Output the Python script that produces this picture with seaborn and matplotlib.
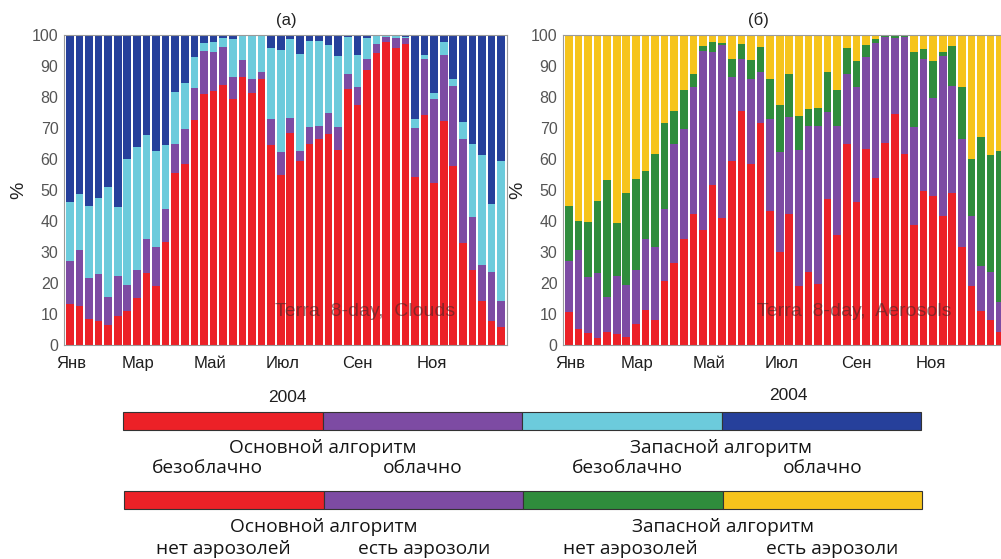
import numpy as np
import pandas as pd
import matplotlib
matplotlib.use("Agg")
import matplotlib.pyplot as plt
from matplotlib.patches import Rectangle
import seaborn as sns

# 8-day periods of 2004 (46 composites)
periods = list(range(46))
month_labels = ["Янв", "Мар", "Май", "Июл", "Сен", "Ноя"]

# (a) Clouds, % of retrievals per 8-day period
clouds_main_clear = [13.3, 12.7, 8.4, 7.8, 6.3, 9.4, 11.0, 15.1, 23.2, 18.9, 33.3, 55.6, 58.3, 72.5, 80.9, 82.0,
                     83.8, 79.3, 86.3, 81.4, 85.8, 64.4, 54.7, 68.3, 59.3, 65.0, 66.6, 68.0, 62.8, 82.6, 77.5, 88.6,
                     94.3, 97.9, 95.7, 97.1, 54.2, 74.2, 52.3, 72.1, 57.7, 33.0, 24.1, 14.3, 7.6, 5.9]
clouds_main_cloudy = [13.7, 18.0, 13.2, 15.1, 9.1, 12.7, 8.2, 9.2, 11.0, 12.6, 10.6, 9.3, 11.5, 10.5, 14.0, 12.6,
                      12.2, 7.0, 5.7, 4.4, 2.3, 8.6, 7.5, 4.8, 3.3, 5.3, 4.2, 7.0, 7.5, 4.8, 5.6, 3.7,
                      2.8, 1.3, 3.2, 1.8, 15.8, 18.1, 27.2, 21.4, 25.8, 33.3, 17.3, 11.5, 15.9, 8.3]
clouds_backup_clear = [19.2, 18.1, 23.4, 24.6, 35.6, 22.3, 40.9, 39.6, 33.4, 31.1, 20.6, 16.8, 14.7, 9.8, 2.5, 3.2,
                       2.9, 12.4, 7.8, 13.8, 11.5, 22.7, 33.1, 25.6, 31.3, 27.9, 27.4, 21.9, 22.8, 11.8, 10.3, 6.7,
                       2.5, 0.6, 0.9, 0.6, 2.9, 1.1, 1.8, 4.1, 2.3, 5.6, 23.3, 35.4, 22.1, 45.1]
clouds_backup_cloudy = [53.8, 51.2, 55.0, 52.5, 49.0, 55.6, 39.9, 36.1, 32.4, 37.4, 35.5, 18.3, 15.5, 7.2, 2.6, 2.2,
                        1.1, 1.3, 0.2, 0.4, 0.4, 4.3, 4.7, 1.3, 6.1, 1.8, 1.8, 3.1, 6.9, 0.8, 6.6, 1.0,
                        0.4, 0.2, 0.2, 0.5, 27.1, 6.6, 18.7, 2.4, 14.2, 28.1, 35.3, 38.8, 54.4, 40.7]

# (б) Aerosols, % of retrievals per 8-day period
aer_main_none = [10.5, 5.1, 3.8, 2.2, 4.3, 3.6, 2.7, 6.8, 11.4, 8.1, 20.5, 26.6, 34.2, 42.1, 37.2, 51.6,
                 41.0, 59.3, 75.5, 58.3, 71.6, 43.1, 29.9, 42.4, 19.1, 23.7, 19.7, 47.1, 35.4, 64.7, 46.1, 63.1,
                 53.9, 65.3, 74.4, 61.5, 38.8, 49.6, 48.2, 41.7, 49.1, 31.5, 19.1, 11.1, 8.1, 4.3]
aer_main_present = [16.5, 25.6, 18.1, 21.0, 11.3, 18.5, 16.7, 17.5, 22.8, 23.5, 23.4, 38.1, 35.6, 41.0, 57.7, 43.0,
                    55.8, 27.2, 16.7, 27.5, 16.5, 29.9, 32.3, 31.0, 43.7, 47.0, 51.0, 28.1, 35.3, 22.7, 37.0, 29.7,
                    43.5, 34.2, 24.5, 37.7, 31.5, 42.6, 31.6, 51.6, 34.3, 35.1, 22.6, 14.5, 15.3, 9.7]
aer_backup_none = [18.0, 9.2, 17.8, 23.2, 37.6, 17.1, 29.7, 29.4, 21.9, 29.9, 27.6, 10.8, 12.5, 4.3, 1.4, 3.2,
                   0.5, 5.9, 4.9, 6.2, 7.9, 12.8, 15.1, 14.0, 11.1, 5.4, 5.7, 12.9, 11.6, 8.3, 8.6, 4.0,
                   1.3, 0.3, 0.7, 0.4, 24.1, 3.3, 11.9, 1.3, 12.9, 16.5, 18.2, 41.6, 37.8, 48.6]
aer_backup_present = [55.0, 60.1, 60.3, 53.6, 46.8, 60.8, 50.9, 46.3, 43.9, 38.5, 28.5, 24.5, 17.7, 12.6, 3.7, 2.2,
                      2.7, 7.6, 2.9, 8.0, 4.0, 14.2, 22.7, 12.6, 26.1, 23.9, 23.6, 11.9, 17.7, 4.3, 8.3, 3.2,
                      1.3, 0.2, 0.4, 0.4, 5.6, 4.5, 8.3, 5.4, 3.7, 16.9, 40.1, 32.8, 38.8, 37.4]

RED, PURPLE, CYAN, BLUE = "#ec2127", "#7d4ba3", "#6ccbdc", "#26409b"
GREEN, YELLOW = "#2f8c3c", "#f6c41c"

legend_a = ["безоблачно", "облачно", "безоблачно", "облачно"]
legend_b = ["нет аэрозолей", "есть аэрозоли", "нет аэрозолей", "есть аэрозоли"]
algo_names = ["Основной алгоритм", "Запасной алгоритм"]

sns.set_style("white")
plt.rcParams["font.family"] = ["Liberation Sans", "DejaVu Sans"]

W, H = 1001, 559
fig = plt.figure(figsize=(W / 100, H / 100), dpi=100)
fig.patch.set_facecolor("white")


def box(x0, y0, w, h):
    """Pixel box (top-left origin) -> figure fraction rect."""
    return [x0 / W, 1 - (y0 + h) / H, w / W, h / H]


def stacked(ax, layers, colors):
    df = pd.DataFrame({"period": periods})
    cum = np.cumsum(np.array(layers, dtype=float), axis=0)
    # draw from the tallest cumulative layer down so each segment stays visible
    for k in range(len(layers) - 1, -1, -1):
        df["top"] = cum[k]
        sns.barplot(data=df, x="period", y="top", color=colors[k], saturation=1,
                    width=0.8, linewidth=0, errorbar=None, ax=ax)
    ax.set_xlim(-0.6, 45.6)
    ax.set_ylim(0, 100)
    ax.set_yticks(range(0, 101, 10))
    ax.set_xticks([0.2, 7.1, 14.6, 22.25, 30.0, 37.75])
    ax.set_xticklabels(month_labels)
    ax.set_xlabel("")
    ax.set_ylabel("%", fontsize=14, color="#222222", labelpad=3)
    ax.tick_params(axis="y", direction="in", length=3, width=0.6, color="#777777",
                   labelsize=11.5, labelcolor="#555555", pad=4)
    ax.tick_params(axis="x", length=0, labelsize=12, labelcolor="#1e1e1e", pad=8)
    for s in ax.spines.values():
        s.set_color("#9a9a9a")
        s.set_linewidth(0.8)


ax_a = fig.add_axes(box(64, 35, 443, 310))
stacked(ax_a, [clouds_main_clear, clouds_main_cloudy, clouds_backup_clear, clouds_backup_cloudy],
        [RED, PURPLE, CYAN, BLUE])

ax_b = fig.add_axes(box(563, 35, 443, 310))
stacked(ax_b, [aer_main_none, aer_main_present, aer_backup_none, aer_backup_present],
        [RED, PURPLE, GREEN, YELLOW])

# product watermarks inside the panels
for x, s in [(275, "Terra  8-day,  Clouds"), (757, "Terra  8-day,  Aerosols")]:
    fig.text(x / W, 1 - 311 / H, s, fontsize=14, color="#4a2626", alpha=0.6,
             ha="left", va="center", fontweight="light")

# panel captions and year
fig.text(286 / W, 1 - 20 / H, "(a)", fontsize=12, color="#222222", ha="center", va="center")
fig.text(758 / W, 1 - 20 / H, "(б)", fontsize=12, color="#222222", ha="center", va="center")
fig.text(287 / W, 1 - 397 / H, "2004", fontsize=12.5, color="#1e1e1e", ha="center", va="center")
fig.text(788 / W, 1 - 395 / H, "2004", fontsize=12.5, color="#1e1e1e", ha="center", va="center")

# colour keys below the panels
key = fig.add_axes([0, 0, 1, 1], zorder=-1)
key.set_xlim(0, W)
key.set_ylim(H, 0)
key.axis("off")

LEG_FONT = ["Open Sans", "DejaVu Sans"]
rows = [
    (411.5, 123, [RED, PURPLE, CYAN, BLUE], legend_a, 448, 468, [207, 423, 627, 823]),
    (490.5, 124, [RED, PURPLE, GREEN, YELLOW], legend_b, 527, 549, [223, 424, 630, 832]),
]
for y0, x0, cols, labels, y_algo, y_sub, sub_x in rows:
    seg = 199.5
    for i, c in enumerate(cols):
        key.add_patch(Rectangle((x0 + i * seg, y0), seg, 18, facecolor=c,
                                edgecolor="#333333", linewidth=0.8))
    for j, name in enumerate(algo_names):
        key.text(x0 + (2 * j + 1) * seg, y_algo, name, fontsize=13.8, family=LEG_FONT,
                 color="#151515", ha="center", va="center")
    for sx, lab in zip(sub_x, labels):
        key.text(sx, y_sub, lab, fontsize=13.8, family=LEG_FONT, color="#151515",
                 ha="center", va="center")

fig.savefig("out.png", dpi=100, facecolor="white")
